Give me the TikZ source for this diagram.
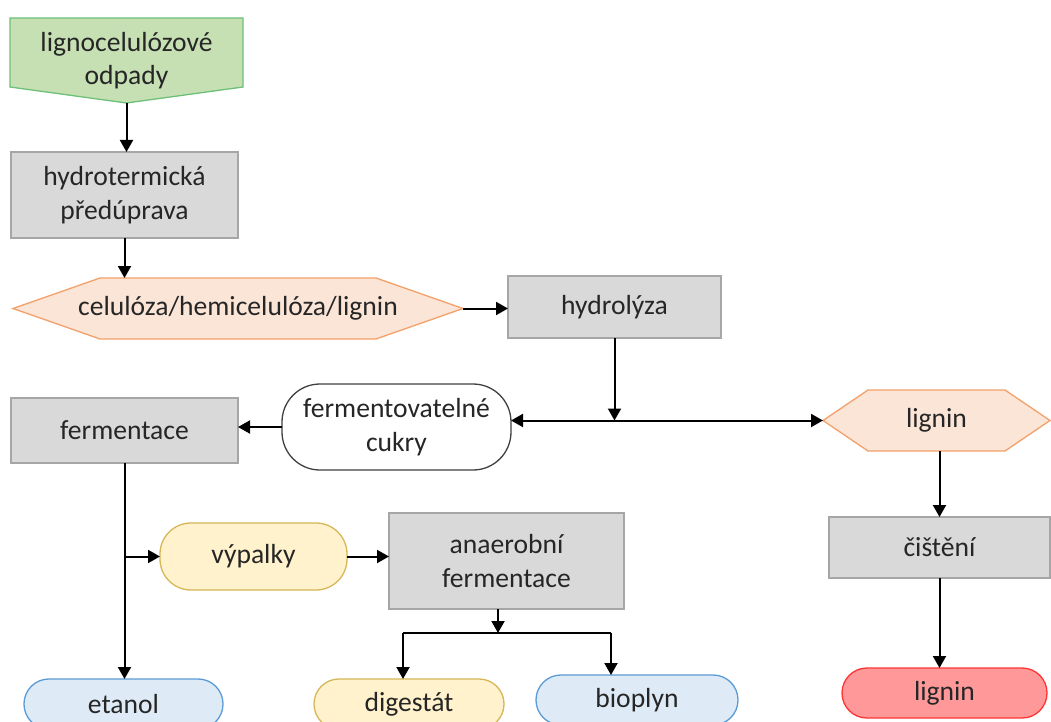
\documentclass[tikz,border=0pt]{standalone}
\usepackage{fontspec}
\setmainfont{Carlito}
\usetikzlibrary{arrows.meta,backgrounds,calc}
\definecolor{txt}{HTML}{262626}
\definecolor{grayf}{HTML}{D9D9D9}
\definecolor{grayb}{HTML}{A6A6A6}
\definecolor{greenf}{HTML}{C6E0B4}
\definecolor{greenb}{HTML}{6DC077}
\definecolor{orangef}{HTML}{FBE5D6}
\definecolor{orangeb}{HTML}{F4A06A}
\definecolor{yellowf}{HTML}{FFF2CC}
\definecolor{yellowb}{HTML}{D6B656}
\definecolor{bluef}{HTML}{DEEBF7}
\definecolor{blueb}{HTML}{5B9BD5}
\definecolor{redf}{HTML}{FF9999}
\definecolor{redb}{HTML}{FF3333}
\definecolor{darkb}{HTML}{404040}
\tikzset{
  base/.style={align=center, inner sep=0pt, outer sep=0pt, text=txt,
    font=\fontsize{27.6}{33.5}\selectfont, line width=1.3pt},
  procbox/.style={base, draw=grayb, fill=grayf},
  shapeonly/.style={base},
  termw/.style={base, draw=darkb, fill=white, rounded corners=38pt},
  termy/.style={base, draw=yellowb, fill=yellowf},
  termb/.style={base, draw=blueb, fill=bluef},
  termr/.style={base, draw=redb, fill=redf},
  hexo/.style={draw=orangeb, fill=orangef, line width=1.3pt},
  pentg/.style={draw=greenb, fill=greenf, line width=1.3pt},
  arr/.style={-{Triangle[length=12pt,width=13pt]}, line width=2pt},
  darr/.style={{Triangle[length=12pt,width=13pt]}-{Triangle[length=12pt,width=13pt]}, line width=2pt},
  ln/.style={line width=2pt}
}
\begin{document}
\begin{tikzpicture}[x=1pt,y=-1pt]
\useasboundingbox (0,0) rectangle (1051,722);
\clip (0,0) rectangle (1051,722);

% nodes
\node[shapeonly, minimum width=233pt, minimum height=85pt] (pent) at (126.5,60.5) {lignocelulózové\\odpady};
\node[procbox, minimum width=227pt, minimum height=86pt] (hterm) at (124.5,195) {hydrotermická\\předúprava};
\node[shapeonly, minimum width=450pt, minimum height=61pt] (cel) at (238,308.5) {celulóza/hemicelulóza/lignin};
\node[procbox, minimum width=213pt, minimum height=62pt] (hydro) at (614.5,307) {hydrolýza};
\node[termw, minimum width=229pt, minimum height=86pt] (ferm) at (396.5,427) {fermentovatelné\\cukry};
\node[procbox, minimum width=227pt, minimum height=65pt] (fermt) at (124.5,430.5) {fermentace};
\node[shapeonly, minimum width=227pt, minimum height=61pt] (lighex) at (936.5,420.5) {lignin};
\node[termy, rounded corners=31pt, minimum width=187pt, minimum height=67pt] (vyp) at (253.5,556.5) {výpalky};
\node[procbox, minimum width=235pt, minimum height=96pt] (anaer) at (506.5,561) {anaerobní\\fermentace};
\node[procbox, minimum width=221pt, minimum height=61pt] (cist) at (939.5,547.5) {čištění};
\node[termb, rounded corners=24.9pt, minimum width=199pt, minimum height=50pt] (etanol) at (123.5,704) {etanol};
\node[termy, rounded corners=24.9pt, minimum width=190pt, minimum height=50pt] (dig) at (409,704) {digestát};
\node[termb, rounded corners=24.9pt, minimum width=202pt, minimum height=50pt] (bio) at (637,700) {bioplyn};
\node[termr, rounded corners=24.9pt, minimum width=205pt, minimum height=50pt] (redlig) at (944.5,693) {lignin};

% special outlines
\begin{scope}[on background layer]
\filldraw[pentg] (pent.north west) -- (pent.north east) -- ($(pent.south east)+(0,-16)$)
  -- (pent.south) -- ($(pent.south west)+(0,-16)$) -- cycle;
\filldraw[hexo] (cel.west) -- ($(cel.north west)+(87,0)$) -- ($(cel.north east)+(-87,0)$)
  -- (cel.east) -- ($(cel.south east)+(-87,0)$) -- ($(cel.south west)+(87,0)$) -- cycle;
\filldraw[hexo] (lighex.west) -- ($(lighex.north west)+(45,0)$) -- ($(lighex.north east)+(-45,0)$)
  -- (lighex.east) -- ($(lighex.south east)+(-45,0)$) -- ($(lighex.south west)+(45,0)$) -- cycle;
\end{scope}

% connectors
\draw[arr] (pent.south) -- (pent.south |- hterm.north);
\draw[arr] (hterm.south) -- (hterm.south |- cel.north);
\draw[arr] (cel.east) -- (hydro.west |- cel.east);
\draw[darr] (ferm.east |- lighex.west) -- (lighex.west);
\draw[arr] (hydro.south) -- (hydro.south |- lighex.west);
\draw[arr] (ferm.west) -- (fermt.east |- ferm.west);
\draw[arr] (fermt.south) -- (fermt.south |- etanol.north);
\coordinate (br) at (fermt.south |- vyp.west);
\draw[arr] (br) -- (vyp.west);
\draw[arr] (vyp.east) -- (anaer.west |- vyp.east);
\coordinate (sp) at (498,633);
\coordinate (sL) at (403,633);
\coordinate (sR) at (611,633);
\draw[arr] (sp |- anaer.south) -- (sp);
\draw[ln] (sL) -- (sR);
\draw[arr] (sL) -- (sL |- dig.north);
\draw[arr] (sR) -- (sR |- bio.north);
\draw[arr] (cist.north |- lighex.south) -- (cist.north);
\draw[arr] (cist.south) -- (cist.south |- redlig.north);
\end{tikzpicture}
\end{document}
